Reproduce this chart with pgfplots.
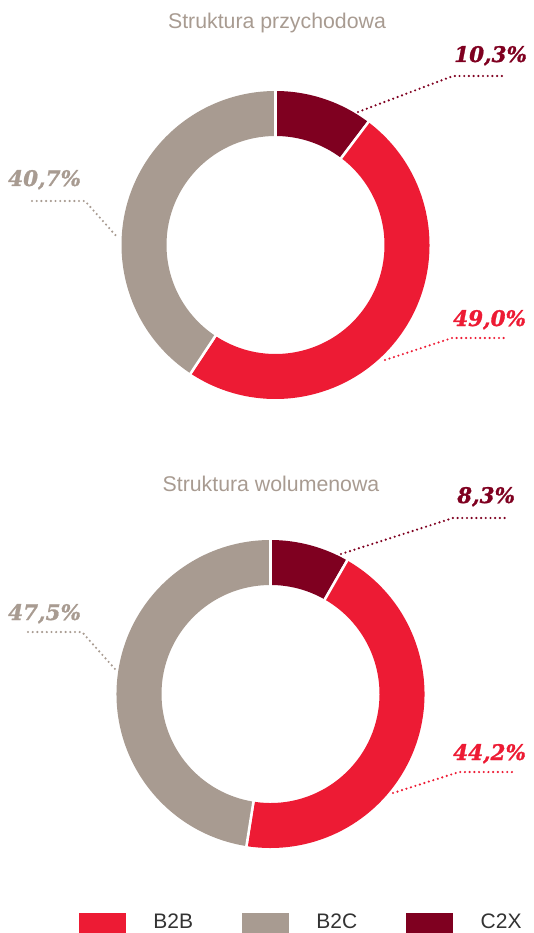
\documentclass[border=0pt]{standalone}
\usepackage{pgfplots}
\pgfplotsset{compat=1.18}
\usepackage{fontspec}
\setmainfont{Liberation Sans}
\newfontfamily\pctfont[BoldItalicFeatures={FakeBold=1.2}]{DejaVu Serif}
\definecolor{cB2B}{HTML}{ED1B34}
\definecolor{cB2C}{HTML}{A89B91}
\definecolor{cC2X}{HTML}{7F0020}
\definecolor{ctitle}{HTML}{A89B91}
\definecolor{clegend}{HTML}{333333}

\pgfdeclareplotmark{emptymark}{}

\pgfplotsset{
  donut/.style={
    only marks, scatter, mark=emptymark,
    point meta=\thisrow{pct}, point meta min=0, point meta max=100,
    visualization depends on={\thisrow{start} \as \sstart},
    visualization depends on={\thisrow{pct} \as \spct},
    scatter/@pre marker code/.code={%
      \pgfmathsetmacro\aone{90-3.6*\sstart}%
      \pgfmathsetmacro\atwo{90-3.6*(\sstart+\spct)}%
      \path[fill=#1, draw=none] (\aone:154pt) arc[start angle=\aone, end angle=\atwo, radius=154pt]
        -- (\atwo:109pt) arc[start angle=\atwo, end angle=\aone, radius=109pt] -- cycle;
      \path[draw=white, line width=2.5pt] (\aone:105pt) -- (\aone:158pt);
      \path[draw=white, line width=2.5pt] (\atwo:105pt) -- (\atwo:158pt);
    },
    scatter/@post marker code/.code={},
  },
  leader/.style={draw=#1, line width=2.4pt, line cap=round, dash pattern=on 0pt off 4.7pt, mark=none, forget plot},
}

\newcommand{\pct}[1]{\pctfont\bfseries\itshape\fontsize{21.5}{24}\selectfont #1}

\begin{document}
\begin{tikzpicture}
\useasboundingbox (0,0) rectangle (533pt,933pt);
\begin{axis}[
  at={(0,0)}, anchor=south west,
  scale only axis, width=533pt, height=933pt,
  xmin=0, xmax=533, ymin=0, ymax=933, y dir=reverse,
  hide axis, clip=false,
  legend columns=3,
  legend style={at={(79/533,20/933)}, anchor=north west, draw=none, fill=none,
    inner sep=0pt, outer sep=0pt,
    font=\fontsize{21}{24}\selectfont\color{clegend},
    nodes={inner sep=0pt},
    /tikz/every odd column/.append style={column sep=28pt},
    /tikz/every even column/.append style={column sep=49pt}},
]
% ---- Chart 1: Struktura przychodowa ----
\addplot[donut=cC2X, forget plot] table[row sep=\\]{x y start pct\\ 275.5 245 0 10.3\\};
\addplot[donut=cB2B, forget plot] table[row sep=\\]{x y start pct\\ 275.5 245 10.3 49.0\\};
\addplot[donut=cB2C, forget plot] table[row sep=\\]{x y start pct\\ 275.5 245 59.3 40.7\\};
% ---- Chart 2: Struktura wolumenowa ----
\addplot[donut=cC2X, forget plot] table[row sep=\\]{x y start pct\\ 270.5 694 0 8.3\\};
\addplot[donut=cB2B, forget plot] table[row sep=\\]{x y start pct\\ 270.5 694 8.3 44.2\\};
\addplot[donut=cB2C, forget plot] table[row sep=\\]{x y start pct\\ 270.5 694 52.5 47.5\\};

% leaders chart 1
\addplot[leader=cC2X] coordinates {(358,112) (453,76) (506,76)};
\addplot[leader=cB2B] coordinates {(385,360) (452,338) (504,338)};
\addplot[leader=cB2C] coordinates {(32,201) (85,201) (118,238)};
% leaders chart 2
\addplot[leader=cC2X] coordinates {(341,554) (453,518) (508,518)};
\addplot[leader=cB2B] coordinates {(393,793) (459,772) (513,772)};
\addplot[leader=cB2C] coordinates {(28,632) (82,632) (115,669)};

% labels
\node[anchor=base west, inner sep=0, text=cC2X] at (axis cs:454,62) {\pct{10,3\%}};
\node[anchor=base west, inner sep=0, text=cB2B] at (axis cs:453,326) {\pct{49,0\%}};
\node[anchor=base west, inner sep=0, text=cB2C] at (axis cs:8,186) {\pct{40,7\%}};
\node[anchor=base west, inner sep=0, text=cC2X] at (axis cs:457,503) {\pct{8,3\%}};
\node[anchor=base west, inner sep=0, text=cB2B] at (axis cs:453,760) {\pct{44,2\%}};
\node[anchor=base west, inner sep=0, text=cB2C] at (axis cs:8,620) {\pct{47,5\%}};

% titles
\node[anchor=base, inner sep=0, text=ctitle, font=\fontsize{21.3}{24}\selectfont] at (axis cs:277,29) {Struktura przychodowa};
\node[anchor=base, inner sep=0, text=ctitle, font=\fontsize{21.3}{24}\selectfont] at (axis cs:271,491) {Struktura wolumenowa};

% legend
\addlegendimage{legend image code/.code={\fill[cB2B] (0pt,-13pt) rectangle (46pt,9pt);}}
\addlegendentry{B2B}
\addlegendimage{legend image code/.code={\fill[cB2C] (0pt,-13pt) rectangle (46pt,9pt);}}
\addlegendentry{B2C}
\addlegendimage{legend image code/.code={\fill[cC2X] (0pt,-13pt) rectangle (46pt,9pt);}}
\addlegendentry{C2X}
\end{axis}
\end{tikzpicture}
\end{document}
